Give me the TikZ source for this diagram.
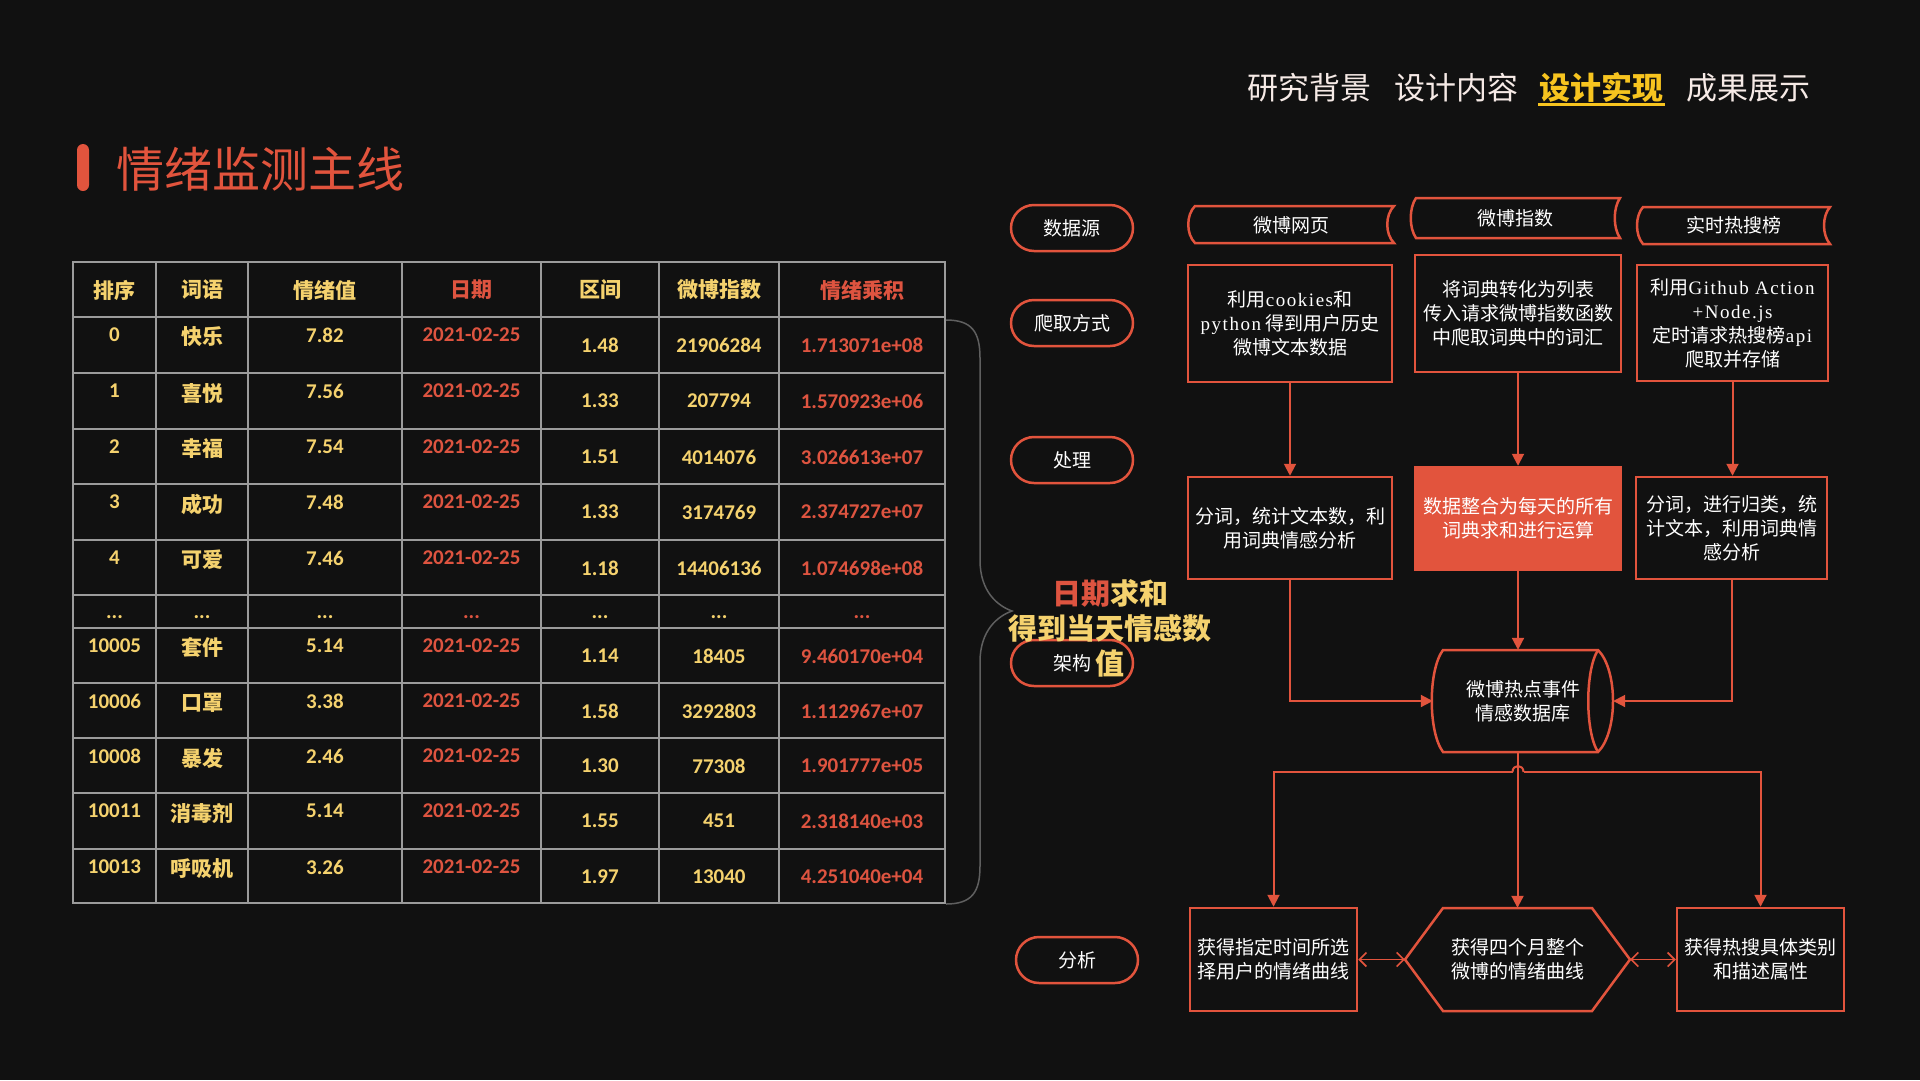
\documentclass[tikz,border=0pt]{standalone}
\usepackage{fontspec}
\setmainfont{Noto Sans CJK SC}
\newfontfamily\numf{Carlito}
\newfontfamily\latf[LetterSpace=8]{Liberation Serif}
\usetikzlibrary{arrows.meta}
\definecolor{bg}{RGB}{17,17,17}
\definecolor{accent}{RGB}{226,84,61}
\definecolor{tyel}{RGB}{245,210,110}
\definecolor{tred}{RGB}{222,84,64}
\definecolor{gridc}{RGB}{155,155,155}
\definecolor{navw}{RGB}{246,234,230}
\definecolor{navy}{RGB}{247,196,31}
\definecolor{bracec}{RGB}{95,95,95}
\tikzset{
  nav/.style={text=navw, font=\fontsize{31}{31}\selectfont, inner sep=0pt},
  ycjk/.style={text=tyel, font=\fontsize{21}{21}\selectfont\bfseries, inner sep=0pt},
  rcjk/.style={text=tred, font=\fontsize{21}{21}\selectfont\bfseries, inner sep=0pt},
  ynum/.style={text=tyel, font=\numf\fontsize{21}{21}\bfseries, inner sep=0pt},
  rnum/.style={text=tred, font=\numf\fontsize{21}{21}\bfseries, inner sep=0pt},
  pill/.style={draw=accent, line width=2.5pt, rounded corners=23pt, minimum width=122pt, minimum height=46pt, text=white, font=\fontsize{19}{19}\selectfont, inner sep=0pt},
  banner/.style={text=white, font=\fontsize{19}{19}\selectfont, inner sep=0pt},
  bord/.style={draw=accent, line width=2.5pt},
  box/.style={draw=accent, line width=2.5pt, text=white, align=center, font=\fontsize{19}{24}\selectfont, inner sep=0pt},
  plain/.style={text=white, align=center, font=\fontsize{19}{24}\selectfont, inner sep=0pt},
  arr/.style={draw=accent, line width=2pt, -{Triangle[length=12pt,width=12pt]}},
  conn/.style={draw=accent, line width=2pt},
  dbl/.style={draw=accent, line width=1.6pt, {Straight Barb[length=7pt,width=14pt]}-{Straight Barb[length=7pt,width=14pt]}},
}
\newcommand\TabRow[7]{%
  \node[ynum] (a#2) at (114.5,{#1+18}) {#2};
  \node[ycjk] (b#2) at (202,{#1+20}) {#3};
  \node[ynum] (c#2) at (325,{#1+18}) {#4};
  \node[rnum] (d#2) at (471.5,{#1+18}) {2021-02-25};
  \node[ynum] (e#2) at (600,{#1+28}) {#5};
  \node[ynum] (f#2) at (719,{#1+28}) {#6};
  \node[rnum] (g#2) at (862,{#1+28}) {#7};%
}
\begin{document}
\begin{tikzpicture}[x=1pt,y=-1pt]
\path[use as bounding box, fill=bg] (0,0) rectangle (1920,1080);

% navigation
\node[nav] (n1) at (1309,88) {研究背景};
\node[nav] (n2) at (1456,88) {设计内容};
\node[nav, text=navy, font=\fontsize{31}{31}\selectfont\bfseries] (n3) at (1601,88) {设计实现};
\node[nav] (n4) at (1748,88) {成果展示};
\draw[navy, line width=3pt] (1538,104) -- (1665,104);

% title
\fill[accent, rounded corners=6pt] (77,144) rectangle (89,191);
\node[text=accent, font=\fontsize{48}{48}\selectfont, inner sep=0pt] (title) at (260,169) {情绪监测主线};

% table grid
\draw[gridc, line width=2.5pt] (73,262) rectangle (945,903);
\foreach \yy in {317,373,429,484,540,595,628,683,738,793,849}
  \draw[gridc, line width=2.5pt] (73,\yy) -- (945,\yy);
\foreach \xx in {156,248,402,541,659,779}
  \draw[gridc, line width=2.5pt] (\xx,262) -- (\xx,903);

% header
\node[ycjk] (h1) at (114.5,290) {排序};
\node[ycjk] (h2) at (202,290) {词语};
\node[ycjk] (h3) at (325,290) {情绪值};
\node[rcjk] (h4) at (471.5,290) {日期};
\node[ycjk] (h5) at (600,290) {区间};
\node[ycjk] (h6) at (719,290) {微博指数};
\node[rcjk] (h7) at (862,290) {情绪乘积};

\TabRow{317}{0}{快乐}{7.82}{1.48}{21906284}{1.713071e+08}
\TabRow{373}{1}{喜悦}{7.56}{1.33}{207794}{1.570923e+06}
\TabRow{429}{2}{幸福}{7.54}{1.51}{4014076}{3.026613e+07}
\TabRow{484}{3}{成功}{7.48}{1.33}{3174769}{2.374727e+07}
\TabRow{540}{4}{可爱}{7.46}{1.18}{14406136}{1.074698e+08}
\node[ynum] (dt1) at (114.5,617) {...};
\node[ynum] (dt2) at (202,617) {...};
\node[ynum] (dt3) at (325,617) {...};
\node[rnum] (dt4) at (471.5,617) {...};
\node[ynum] (dt5) at (600,617) {...};
\node[ynum] (dt6) at (719,617) {...};
\node[rnum] (dt7) at (862,617) {...};
\TabRow{628}{10005}{套件}{5.14}{1.14}{18405}{9.460170e+04}
\TabRow{683}{10006}{口罩}{3.38}{1.58}{3292803}{1.112967e+07}
\TabRow{738}{10008}{暴发}{2.46}{1.30}{77308}{1.901777e+05}
\TabRow{793}{10011}{消毒剂}{5.14}{1.55}{451}{2.318140e+03}
\TabRow{849}{10013}{呼吸机}{3.26}{1.97}{13040}{4.251040e+04}

% brace
\draw[bracec, line width=1.5pt] (946,320) .. controls (972,320) and (980,332) .. (980,358)
  -- (980,560) .. controls (980,592) and (998,606) .. (1012,611)
  .. controls (998,616) and (980,630) .. (980,662)
  -- (980,866) .. controls (980,892) and (972,904) .. (946,904);

% left pills
\node[pill] (p1) at (1072,228) {数据源};
\node[pill] (p2) at (1072,323) {爬取方式};
\node[pill] (p3) at (1072,460) {处理};
\node[pill] (p4) at (1072,663) {架构};
\node[pill] (p5) at (1077,960) {分析};

% summary text
\node[text=tyel, font=\fontsize{29}{35}\selectfont\bfseries, align=center, inner sep=0pt] (sumtxt) at (1110,628) {{\color{tred}日期}求和\\得到当天情感数\\值};

% banners (stored data shapes)
\draw[bord] (1195,206) -- (1394,206) .. controls (1385,215) and (1385,234) .. (1394,243)
  -- (1195,243) .. controls (1186,234) and (1186,215) .. (1195,206) -- cycle;
\node[banner] (s1) at (1291,225) {微博网页};
\draw[bord] (1416,198) -- (1620,198) .. controls (1613,208) and (1613,228) .. (1620,238)
  -- (1416,238) .. controls (1409,228) and (1409,208) .. (1416,198) -- cycle;
\node[banner] (s2) at (1515,218) {微博指数};
\draw[bord] (1643,207) -- (1830,207) .. controls (1822,216) and (1822,235) .. (1830,244)
  -- (1643,244) .. controls (1635,235) and (1635,216) .. (1643,207) -- cycle;
\node[banner] (s3) at (1734,225) {实时热搜榜};

% crawl boxes
\node[box, minimum width=204pt, minimum height=117pt] (bA) at (1290,323.5)
  {利用{\latf cookies}和\\{\latf python} 得到用户历史\\微博文本数据};
\node[box, minimum width=206pt, minimum height=117pt] (bB) at (1518,313.5)
  {将词典转化为列表\\传入请求微博指数函数\\中爬取词典中的词汇};
\node[box, minimum width=191pt, minimum height=116pt] (bC) at (1732.5,323)
  {利用{\latf Github Action}\\{\latf +Node.js}\\定时请求热搜榜{\latf api}\\爬取并存储};

% process boxes
\node[box, minimum width=204pt, minimum height=102pt] (pA) at (1290,528)
  {分词，统计文本数，利\\用词典情感分析};
\node[box, fill=accent, minimum width=206pt, minimum height=103pt] (pB) at (1518,518.5)
  {数据整合为每天的所有\\词典求和进行运算};
\node[box, minimum width=191pt, minimum height=102pt] (pC) at (1731.5,528)
  {分词，进行归类，统\\计文本，利用词典情\\感分析};

% database
\draw[bord] (1443,650) -- (1598,650) .. controls (1618,670) and (1618,732) .. (1598,752)
  -- (1443,752) .. controls (1428,732) and (1428,670) .. (1443,650) -- cycle;
\draw[bord] (1598,650) .. controls (1585,670) and (1585,732) .. (1598,752);
\node[plain, minimum width=180pt, minimum height=102pt] (db) at (1523,701) {微博热点事件\\情感数据库};

% analysis
\node[box, minimum width=167pt, minimum height=103pt] (ana1) at (1273.5,959.5)
  {获得指定时间所选\\择用户的情绪曲线};
\draw[bord, line join=miter] (1405,959.5) -- (1443,908) -- (1592,908) -- (1630,959.5) -- (1592,1011) -- (1443,1011) -- cycle;
\node[plain, minimum width=225pt, minimum height=103pt] (hex) at (1517.5,959.5)
  {获得四个月整个\\微博的情绪曲线};
\node[box, minimum width=167pt, minimum height=103pt] (ana3) at (1760.5,959.5)
  {获得热搜具体类别\\和描述属性};

% connectors
\draw[arr] (bA.south) -- (pA.north);
\draw[arr] (bB.south) -- (pB.north);
\draw[arr] (bC.south) -- (bC.south |- pC.north);
\draw[arr] (pA.south) |- (db.west);
\draw[arr] (pC.south) |- (db.east);
\draw[arr] (pB.south) -- (pB.south |- db.north);
\draw[arr] (hex.north |- db.south) -- (hex.north);
\coordinate (hopL) at (1512.5,772);
\coordinate (hopR) at (1523.5,772);
\draw[conn] (hopL) .. controls (1512.5,764) and (1523.5,764) .. (hopR);
\draw[arr] (hopL) -| (ana1.north);
\draw[arr] (hopR) -| (ana3.north);
\draw[dbl] (ana1.east) -- (hex.west);
\draw[dbl] (hex.east) -- (ana3.west);
\end{tikzpicture}
\end{document}
